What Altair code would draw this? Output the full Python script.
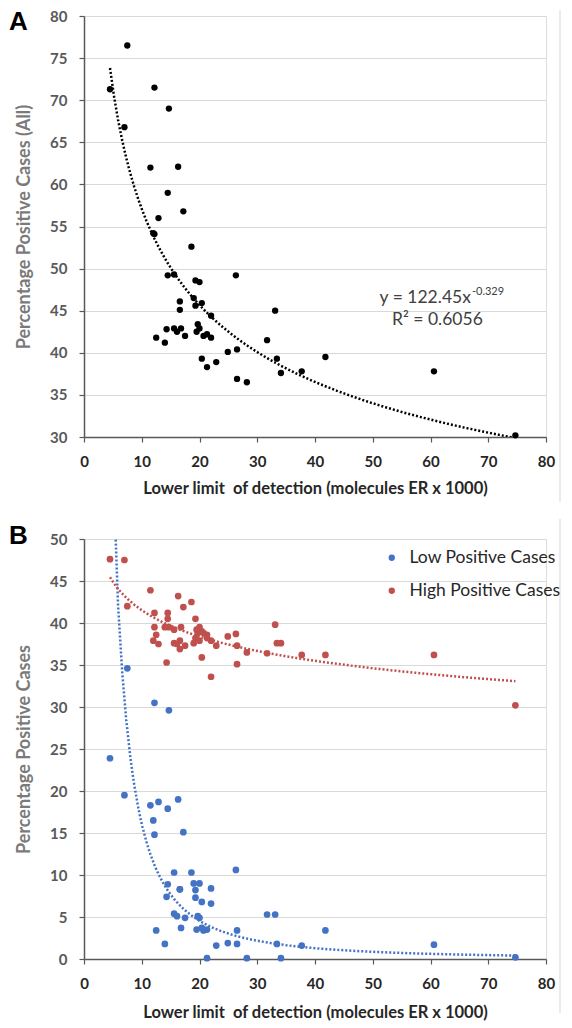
import altair as alt
import pandas as pd

# ---- data ----
lod = [4.5, 7.0, 7.5, 11.5, 12.2, 14.7, 16.3, 14.5, 17.2, 12.9,
       12.0, 12.2, 18.6, 14.5, 15.6, 19.3, 20.0, 26.3, 19.0, 16.6,
       20.4, 19.3, 16.6, 33.1, 22.0, 19.7, 15.6, 14.3, 16.8, 19.5,
       16.1, 17.5, 20.7, 21.3, 22.0, 12.5, 14.0, 31.7, 26.5, 24.9,
       20.4, 33.4, 22.9, 21.3, 37.7, 34.1, 26.5, 28.2, 41.8, 60.6,
       74.7, 20.0]
pct_all = [71.3, 66.8, 76.5, 62.0, 71.5, 69.0, 62.1, 59.0, 56.8, 56.0,
           54.2, 54.1, 52.6, 49.2, 49.3, 48.6, 48.4, 49.2, 46.5, 46.1,
           45.9, 45.6, 45.1, 45.0, 44.4, 43.4, 42.9, 42.8, 42.9, 42.5,
           42.5, 42.0, 42.0, 42.2, 41.8, 41.8, 41.2, 41.5, 40.4, 40.1,
           39.3, 39.3, 38.9, 38.3, 37.8, 37.6, 36.9, 36.5, 39.5, 37.8,
           30.2, 42.9]
pct_low = [23.9, 19.5, 34.6, 18.3, 30.5, 29.6, 19.0, 17.9, 15.1, 18.7,
           16.5, 14.8, 10.3, 8.9, 10.3, 8.2, 9.0, 10.6, 9.0, 8.3,
           6.8, 7.3, 8.3, 5.3, 6.6, 5.1, 5.4, 7.4, 3.7, 3.5,
           5.1, 4.9, 3.4, 3.5, 8.4, 3.4, 1.8, 5.3, 3.4, 1.9,
           3.7, 1.8, 1.6, 0.1, 1.6, 0.1, 1.8, 0.1, 3.4, 1.7,
           0.2, 4.9]
pct_high = [47.6, 47.5, 42.0, 43.9, 41.2, 39.5, 43.2, 41.2, 41.9, 37.5,
            37.9, 39.5, 42.5, 40.5, 39.2, 40.5, 39.5, 38.7, 37.6, 37.9,
            39.0, 38.2, 36.9, 39.8, 37.9, 38.8, 37.6, 35.3, 39.5, 39.2,
            37.5, 37.3, 38.8, 38.6, 33.6, 38.6, 39.5, 36.4, 37.3, 38.4,
            35.9, 37.6, 37.3, 38.2, 36.2, 37.6, 35.1, 36.5, 36.2, 36.2,
            30.2, 37.9]

series_names = ["Low Positive Cases", "High Positive Cases"]
x_ticks = [0, 10, 20, 30, 40, 50, 60, 70, 80]
y_ticks_a = [30, 35, 40, 45, 50, 55, 60, 65, 70, 75, 80]
y_ticks_b = [0, 5, 10, 15, 20, 25, 30, 35, 40, 45, 50]
x_title = "Lower limit\u00a0 of detection (molecules ER x 1000)"

df = pd.DataFrame({"lod": lod, "all": pct_all,
                   series_names[0]: pct_low, series_names[1]: pct_high})

FONT = "Lato"
BLUE = "#4472C4"
RED = "#C0504D"
GRID = "#D9D9D9"
AXC = "#595959"

W, HA, HB = 462, 421, 420


def yaxis(title, values):
    return alt.Axis(title=title, values=values, grid=True, gridColor=GRID, gridWidth=1,
                    domainColor=AXC, domainWidth=1.5, tickColor=AXC, tickSize=5, tickWidth=1.2,
                    labelPadding=12, labelFont=FONT, labelFontSize=15, labelFontWeight="bold",
                    labelColor=AXC, labelFlush=False, minExtent=34, maxExtent=34,
                    titleFont=FONT, titleFontSize=18, titleFontWeight="bold",
                    titleColor="#7a7a7a", titlePadding=17)


def xaxis(tpad):
    return alt.Axis(title=x_title, values=x_ticks, grid=False, domainColor=AXC, domainWidth=1.5,
                    tickColor=AXC, tickSize=5, tickWidth=1.2, labelPadding=12, labelFont=FONT,
                    labelFontSize=15, labelFontWeight="bold", labelColor="#262626",
                    labelFlush=False, labelOverlap=False,
                    titleFont=FONT, titleFontSize=16.5, titleFontWeight="bold",
                    titleColor="#262626", titlePadding=tpad)


xs = alt.Scale(domain=[0, 80], nice=False, zero=False)
XA = alt.X("lod:Q", scale=xs, axis=xaxis(11))
XB = alt.X("lod:Q", scale=xs, axis=xaxis(13))

# ---------------- Panel A ----------------
YA = alt.Y("all:Q", scale=alt.Scale(domain=[30, 80], nice=False, zero=False),
           axis=yaxis("Percentage Positive Cases (All)", y_ticks_a))

pts_a = alt.Chart(df).mark_circle(size=40, color="black", opacity=1).encode(x=XA, y=YA)
trend_a = (alt.Chart(df)
           .transform_regression("lod", "all", method="pow")
           .mark_line(color="black", strokeDash=[2, 2], strokeWidth=2.5, clip=True)
           .encode(x=XA, y=YA))

eq_df = pd.DataFrame({"lod": [67.0], "all": [46.5], "t": ["y = 122.45x"]})
eq = alt.Chart(eq_df).mark_text(font=FONT, fontSize=17.5, color="#404040", align="right",
                                baseline="middle").encode(x=XA, y=YA, text="t:N")
sup_df = pd.DataFrame({"lod": [67.0], "all": [46.5], "t": ["-0.329"]})
sup = alt.Chart(sup_df).mark_text(font=FONT, fontSize=11, color="#404040", align="left",
                                  baseline="middle", dx=1, dy=-6).encode(x=XA, y=YA, text="t:N")
r2_df = pd.DataFrame({"lod": [61.2], "all": [43.9], "t": ["R\u00b2 = 0.6056"]})
r2 = alt.Chart(r2_df).mark_text(font=FONT, fontSize=17.5, color="#404040", align="center",
                                baseline="middle").encode(x=XA, y=YA, text="t:N")

lab_a = alt.Chart(pd.DataFrame({"t": ["A"]})).mark_text(
    font="Liberation Sans", fontSize=26, fontWeight="bold", color="black",
    align="left", baseline="top").encode(text="t:N", x=alt.value(-75), y=alt.value(-7))
border_a = alt.Chart(pd.DataFrame({"t": [0]})).mark_rule(color="#E4E4E4", strokeWidth=1.5).encode(
    x=alt.value(476), y=alt.value(-6), y2=alt.value(486))

panel_a = alt.layer(border_a, pts_a, trend_a, eq, sup, r2, lab_a).properties(width=W, height=HA)

# ---------------- Panel B ----------------
YB = alt.Y("pct:Q", scale=alt.Scale(domain=[0, 50], nice=False, zero=False),
           axis=yaxis("Percentage Positive Cases", y_ticks_b))
cscale = alt.Scale(domain=series_names, range=[BLUE, RED])

base_b = alt.Chart(df).transform_fold(series_names, as_=["series", "pct"])
pts_b = base_b.mark_circle(size=45, opacity=1).encode(
    x=XB, y=YB,
    color=alt.Color("series:N", scale=cscale,
                    legend=alt.Legend(title=None, orient="none", legendX=299, legendY=10,
                                      padding=0, labelFont=FONT, labelFontSize=17.5,
                                      labelColor="#262626", symbolType="circle",
                                      symbolSize=40, symbolStrokeWidth=0, rowPadding=14,
                                      labelOffset=9)))
trend_b = (base_b
           .transform_regression("lod", "pct", method="pow", groupby=["series"])
           .mark_line(strokeDash=[2, 2], strokeWidth=2.5, clip=True)
           .encode(x=XB, y=YB, stroke=alt.Stroke("series:N", scale=cscale, legend=None)))

lab_b = alt.Chart(pd.DataFrame({"t": ["B"]})).mark_text(
    font="Liberation Sans", fontSize=26, fontWeight="bold", color="black",
    align="left", baseline="top").encode(text="t:N", x=alt.value(-75), y=alt.value(-16))
border_b = alt.Chart(pd.DataFrame({"t": [0]})).mark_rule(color="#E4E4E4", strokeWidth=1.5).encode(
    x=alt.value(476), y=alt.value(-20), y2=alt.value(474))

panel_b = alt.layer(border_b, pts_b, trend_b, lab_b).properties(width=W, height=HB)

chart = (alt.vconcat(panel_a, panel_b, spacing=13)
         .resolve_scale(color="independent", stroke="independent")
         .resolve_legend(color="independent", stroke="independent")
         .properties(padding={"left": 0, "top": 0, "right": 0, "bottom": 0})
         .configure_view(stroke=None)
         .configure(font=FONT))

chart.save("out.html", embed_options={"renderer": "svg", "actions": False})
